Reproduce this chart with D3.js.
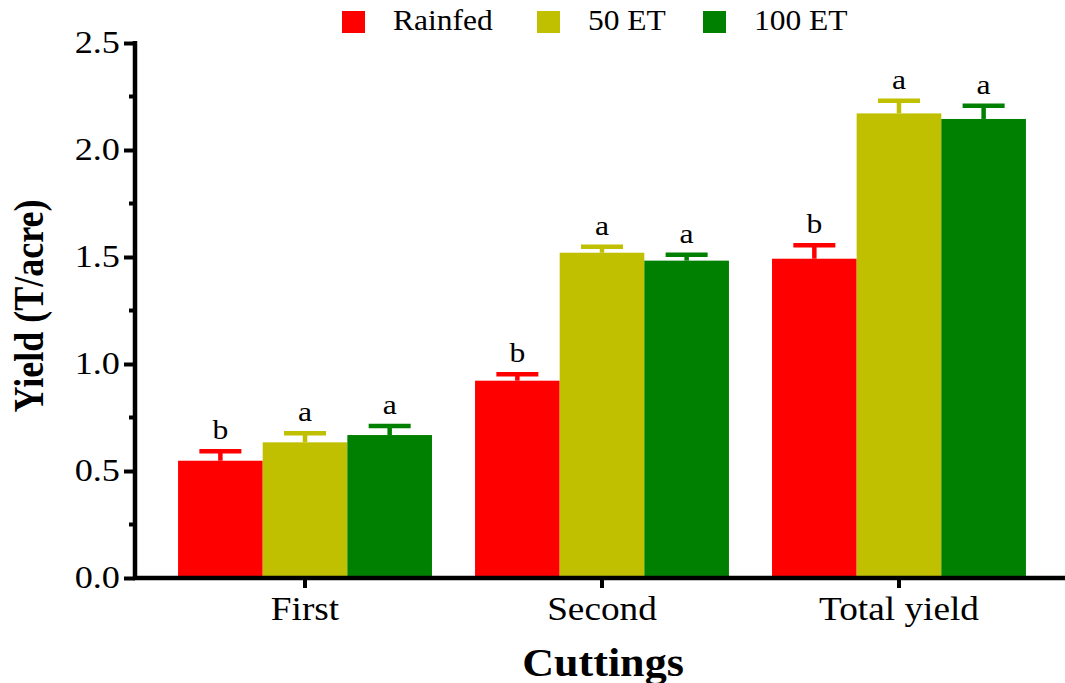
<!DOCTYPE html>
<html>
<head>
<meta charset="utf-8">
<script src="https://cdn.jsdelivr.net/npm/d3@7"></script>
<style>
  body { margin: 0; background: #fff; }
  svg text { font-family: "Liberation Serif", "Times New Roman", Times, serif; fill: #000; }
</style>
</head>
<body>
<svg id="chart" width="1065" height="683"></svg>
<script>
// Data
const cuttings = ["First", "Second", "Total yield"];
const treatments = ["Rainfed", "50 ET", "100 ET"];
const colors = ["#ff0000", "#c0c000", "#008000"];

const rainfed = [0.548, 0.922, 1.492];
const et50 = [0.634, 1.520, 2.171];
const et100 = [0.668, 1.483, 2.145];

const rainfedErr = [0.044, 0.030, 0.063];
const et50Err = [0.042, 0.028, 0.059];
const et100Err = [0.042, 0.028, 0.062];

const rainfedLetters = ["b", "b", "b"];
const et50Letters = ["a", "a", "a"];
const et100Letters = ["a", "a", "a"];

const yTicks = [0, 0.5, 1.0, 1.5, 2.0, 2.5];

// Build rows
const series = [
    { name: treatments[0], values: rainfed, err: rainfedErr, letters: rainfedLetters },
    { name: treatments[1], values: et50, err: et50Err, letters: et50Letters },
    { name: treatments[2], values: et100, err: et100Err, letters: et100Letters }
];
const rows = [];
series.forEach((s, si) => {
    cuttings.forEach((c, ci) => {
        rows.push({ cutting: c, treatment: s.name, color: colors[si], value: s.values[ci], err: s.err[ci], letter: s.letters[ci] });
    });
});

const svg = d3.select("#chart");
const plotLeft = 135, plotRight = 1069, plotTop = 43, plotBottom = 578;

const x0 = d3.scaleBand().domain(cuttings).range([plotLeft, plotRight]).paddingInner(0.145).paddingOuter(0.145);
const x1 = d3.scaleBand().domain(treatments).range([0, x0.bandwidth()]);
const y = d3.scaleLinear().domain([0, 2.5]).range([plotBottom, plotTop]);

const cx = d => x0(d.cutting) + x1(d.treatment) + x1.bandwidth() / 2;

// the reference text is a bit stretched sideways
const stretch = 1.13;

// Bars
svg.append("g")
    .selectAll("rect")
    .data(rows)
    .join("rect")
    .attr("x", d => x0(d.cutting) + x1(d.treatment))
    .attr("y", d => y(d.value))
    .attr("width", x1.bandwidth())
    .attr("height", d => y(0) - y(d.value))
    .attr("fill", d => d.color);

// Error bars (upper only)
const errG = svg.append("g").attr("stroke-width", 4.5);
errG.selectAll("line.v")
    .data(rows)
    .join("line")
    .attr("class", "v")
    .attr("x1", cx).attr("x2", cx)
    .attr("y1", d => y(d.value))
    .attr("y2", d => y(d.value + d.err))
    .attr("stroke", d => d.color);
errG.selectAll("line.cap")
    .data(rows)
    .join("line")
    .attr("class", "cap")
    .attr("x1", d => cx(d) - 21)
    .attr("x2", d => cx(d) + 21)
    .attr("y1", d => y(d.value + d.err))
    .attr("y2", d => y(d.value + d.err))
    .attr("stroke", d => d.color);

// Significance letters
svg.append("g")
    .selectAll("text")
    .data(rows)
    .join("text")
    .attr("transform", d => `translate(${cx(d)},${y(d.value + d.err) - 12}) scale(${stretch},1)`)
    .attr("text-anchor", "middle")
    .attr("font-size", "28px")
    .text(d => d.letter);

// Y axis
const yAxis = svg.append("g")
    .attr("transform", `translate(${plotLeft},0)`)
    .call(d3.axisLeft(y).tickValues(yTicks).tickFormat(d3.format(".1f")).tickSize(11).tickPadding(4));
yAxis.attr("font-family", null);
yAxis.select(".domain").remove();
yAxis.selectAll(".tick line").attr("stroke", "#000").attr("stroke-width", 4);
yAxis.selectAll(".tick text")
    .attr("x", 0)
    .attr("transform", "translate(-15,0) scale(1.17,1)")
    .attr("font-size", "31px");
// minor ticks
yAxis.append("g")
    .selectAll("line")
    .data(d3.range(0.25, 2.5, 0.5))
    .join("line")
    .attr("x1", -6).attr("x2", 0)
    .attr("y1", d => y(d)).attr("y2", d => y(d))
    .attr("stroke", "#000").attr("stroke-width", 4);
yAxis.append("line")
    .attr("x1", 0).attr("x2", 0)
    .attr("y1", y(2.5) - 2).attr("y2", plotBottom + 2)
    .attr("stroke", "#000").attr("stroke-width", 4.5);

// X axis
const xAxis = svg.append("g")
    .attr("transform", `translate(0,${plotBottom})`)
    .call(d3.axisBottom(x0).tickSize(10).tickPadding(10));
xAxis.attr("font-family", null);
xAxis.select(".domain").remove();
xAxis.selectAll(".tick line").attr("stroke", "#000").attr("stroke-width", 4);
xAxis.selectAll(".tick text")
    .attr("y", 0).attr("dy", null)
    .attr("transform", `translate(0,42) scale(${stretch},1)`)
    .attr("font-size", "33px");
xAxis.append("line")
    .attr("x1", plotLeft - 2).attr("x2", 1065)
    .attr("y1", 0).attr("y2", 0)
    .attr("stroke", "#000").attr("stroke-width", 4.5);

// Axis titles
svg.append("text")
    .attr("transform", `translate(603,676) scale(${stretch},1)`)
    .attr("text-anchor", "middle")
    .attr("font-size", "39px")
    .attr("font-weight", "bold")
    .text("Cuttings");

svg.append("text")
    .attr("transform", "translate(43,306) rotate(-90) scale(1,1.2)")
    .attr("text-anchor", "middle")
    .attr("font-size", "36px")
    .attr("font-weight", "bold")
    .text("Yield (T/acre)");

// Legend
const legendX = [342, 537, 703];
const legend = svg.append("g")
    .selectAll("g")
    .data(treatments)
    .join("g")
    .attr("transform", (d, i) => `translate(${legendX[i]},0)`);
legend.append("rect")
    .attr("x", 0).attr("y", 11)
    .attr("width", 23).attr("height", 22)
    .attr("fill", (d, i) => colors[i]);
legend.append("text")
    .attr("transform", "translate(51,30) scale(1.05,1)")
    .attr("font-size", "30px")
    .text(d => d);
</script>
</body>
</html>
